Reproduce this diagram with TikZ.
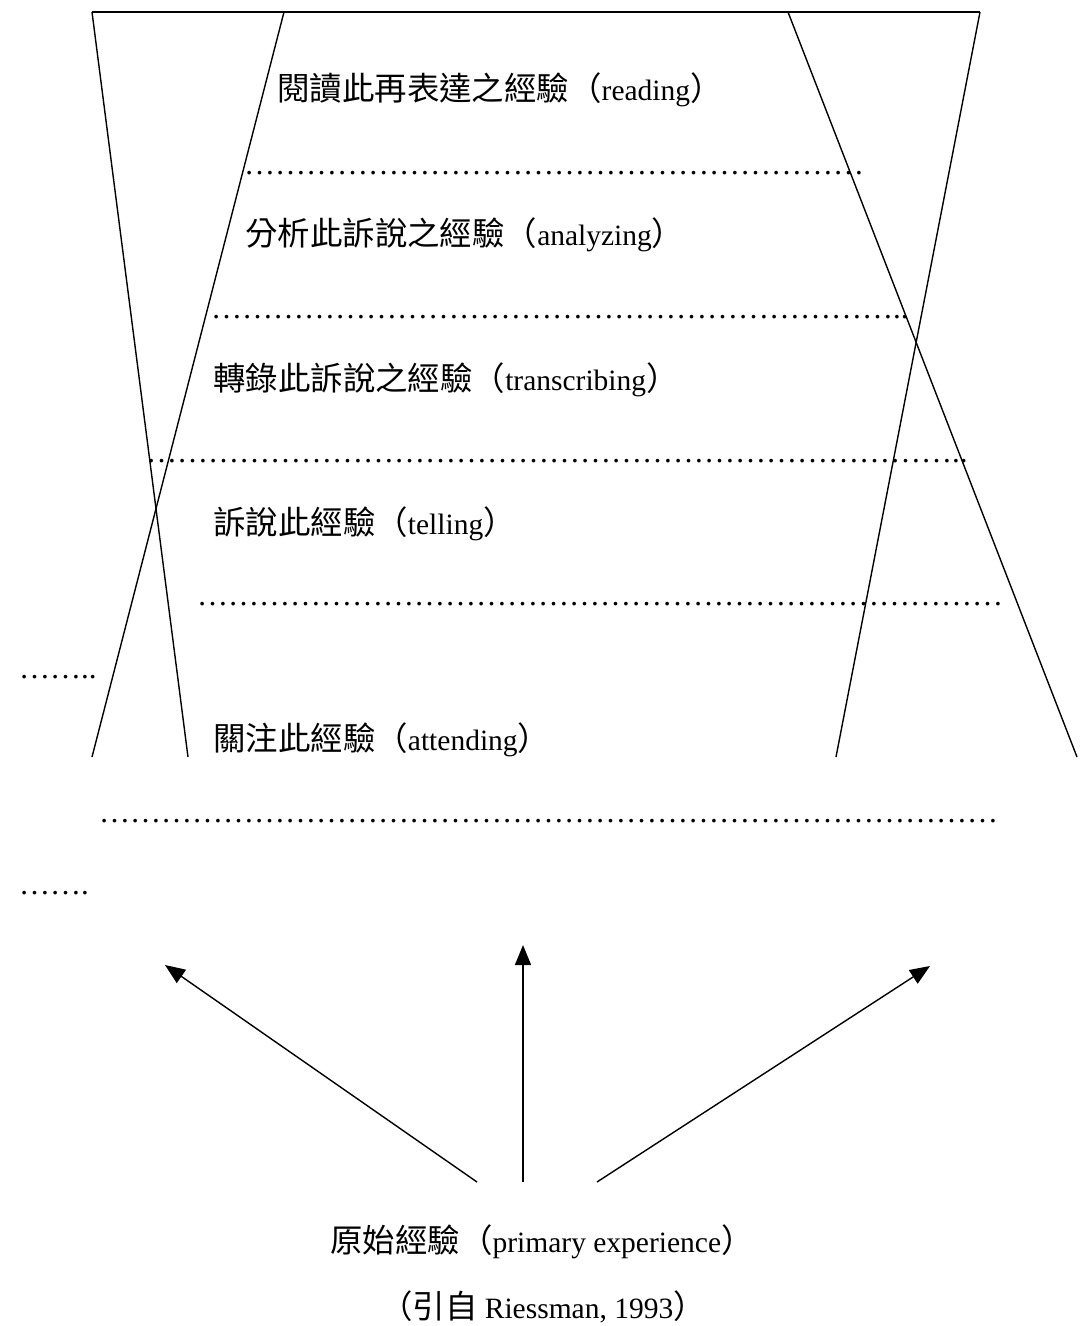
\documentclass[tikz,border=0pt]{standalone}
\usepackage{fontspec}
\setmainfont{Liberation Serif}
\newfontfamily\cjk[Scale=1.1]{Noto Sans CJK TC}
\usetikzlibrary{arrows.meta}
\ExplSyntaxOn
\cs_new:Npn \dotrowtext #1 { \prg_replicate:nn {#1} {…} }
\ExplSyntaxOff
\begin{document}
\begin{tikzpicture}[x=1pt,y=-1pt,
  lbl/.style={inner sep=0pt, anchor=base west, font=\fontsize{29.5}{36}\selectfont},
  ctr/.style={inner sep=0pt, anchor=base, font=\fontsize{29.5}{36}\selectfont},
  dotrow/.style={inner sep=0pt, anchor=base west, font=\fontsize{31}{36}\selectfont},
  edge/.style={line width=1.4pt},
  arr/.style={line width=1.4pt, -{Triangle[length=20pt,width=16pt]}}]
\useasboundingbox (0,0) rectangle (1086,1326);

% funnel lines
\coordinate (tA) at (92,12);   \coordinate (bA) at (188,757);
\coordinate (tB) at (284,12);  \coordinate (bB) at (92,757);
\coordinate (tC) at (788,12);  \coordinate (bC) at (1077,757);
\coordinate (tD) at (980,12);  \coordinate (bD) at (836,757);
\draw[edge, line width=1.7pt] (tA) -- (tD);
\draw[edge] (tA) -- (bA);
\draw[edge] (tB) -- (bB);
\draw[edge] (tC) -- (bC);
\draw[edge] (tD) -- (bD);

% labels
\node[lbl] (reading) at (277,100) {{\cjk 閱讀此再表達之經驗（}reading{\cjk ）}};
\node[lbl] (analyzing) at (245,245) {{\cjk 分析此訴說之經驗（}analyzing{\cjk ）}};
\node[lbl] (transcribing) at (213,390) {{\cjk 轉錄此訴說之經驗（}transcribing{\cjk ）}};
\node[lbl] (telling) at (213,534) {{\cjk 訴說此經驗（}telling{\cjk ）}};
\node[lbl] (attending) at (213,750) {{\cjk 關注此經驗（}attending{\cjk ）}};
\node[ctr] (primary) at (542,1252) {{\cjk 原始經驗（}primary experience{\cjk ）}};
\node[ctr] (source) at (543,1318) {{\cjk （引自 }Riessman, 1993{\cjk ）}};

% dotted rows (ellipsis text)
\node[dotrow] (d1) at (244,174) {\dotrowtext{20}};
\node[dotrow] (d2) at (211,318) {\dotrowtext{22}..};
\node[dotrow] (d3) at (146,462) {\dotrowtext{26}..};
\node[dotrow] (d4) at (197,605) {\dotrowtext{26}};
\node[dotrow] (d5) at (19,678) {\dotrowtext{2}..};
\node[dotrow] (d6) at (99,822) {\dotrowtext{29}};
\node[dotrow] (d7) at (19,894) {\dotrowtext{2}.};

% arrows
\coordinate (oL) at (477,1182); \coordinate (hL) at (165,965);
\coordinate (oM) at (523,1182); \coordinate (hM) at (523,945);
\coordinate (oR) at (597,1182); \coordinate (hR) at (930,966);
\draw[arr] (oL) -- (hL);
\draw[arr] (oM) -- (hM);
\draw[arr] (oR) -- (hR);
\end{tikzpicture}
\end{document}
